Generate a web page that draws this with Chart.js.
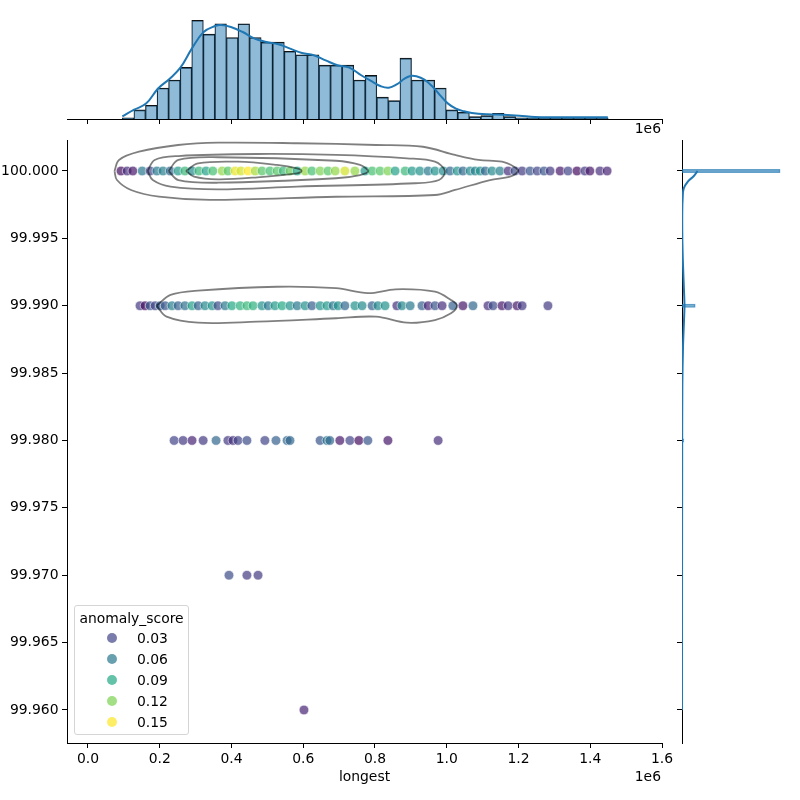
<!DOCTYPE html>
<html>
<head>
<meta charset="utf-8">
<script src="https://cdn.jsdelivr.net/npm/chart.js@4.4.0/dist/chart.umd.min.js"></script>
<style>
  body { margin: 0; background: #fff; }
  #wrap { position: relative; width: 800px; height: 800px; font-family: 'DejaVu Sans', sans-serif; color: #000; }
  #wrap canvas { position: absolute; left: 0; top: 0; }
  .offset { position: absolute; font-size: 13.9px; line-height: 16px; text-align: right; width: 40px; }
  #legend { position: absolute; left: 74px; top: 605px; width: 115px; height: 130px; box-sizing: border-box;
            border: 1px solid #d5d5d5; border-radius: 3px; background: rgba(255,255,255,0.8); font-size: 13.9px; }
  #legend .ltitle { position: absolute; left: 0; width: 100%; top: 2px; text-align: center; line-height: 20px; white-space: nowrap; }
  #legend .lrow { position: absolute; left: 0; width: 100%; line-height: 20px; }
  #legend .dot { position: absolute; left: 32px; top: 5px; width: 10px; height: 10px; border-radius: 50%; }
  #legend .lab { position: absolute; left: 62px; }
</style>
</head>
<body>
<div id="wrap">
  <canvas id="main" width="800" height="800"></canvas>
  <canvas id="top" width="800" height="800"></canvas>
  <canvas id="right" width="800" height="800"></canvas>
  <div class="offset" style="left:621px; top:120px;">1e6</div>
  <div class="offset" style="left:621px; top:768px;">1e6</div>
  <div id="legend"></div>
</div>
<script>
// axis ranges and ticks (x in units of 1e6)
const xMin = -0.0585, xMax = 1.6;
const yMin = 99.95755, yMax = 100.0023;
const xTicks = [0, 0.2, 0.4, 0.6, 0.8, 1.0, 1.2, 1.4, 1.6];
const yTicks = [99.96, 99.965, 99.97, 99.975, 99.98, 99.985, 99.99, 99.995, 100.0];
const legendScores = [0.03, 0.06, 0.09, 0.12, 0.15];

// scatter rows: longest (1e6) and anomaly_score
const row100X = [0.092,0.109,0.125,0.151,0.173,0.192,0.209,0.229,0.251,0.270,0.290,0.309,0.329,0.348,0.374,0.390,0.410,0.426,0.446,0.466,0.485,0.507,0.527,0.544,0.563,0.583,0.605,0.624,0.647,0.669,0.689,0.716,0.744,0.772,0.792,0.814,0.836,0.856,0.884,0.903,0.925,0.948,0.967,0.990,1.009,1.029,1.045,1.065,1.079,1.093,1.107,1.126,1.148,1.171,1.190,1.210,1.232,1.252,1.271,1.288,1.316,1.338,1.363,1.385,1.399,1.427,1.447];
const row100S = [0.005,0.02,0.01,0.06,0.03,0.06,0.065,0.05,0.08,0.10,0.07,0.10,0.085,0.105,0.125,0.11,0.145,0.14,0.15,0.13,0.11,0.105,0.11,0.10,0.115,0.09,0.125,0.105,0.12,0.11,0.125,0.14,0.125,0.08,0.105,0.11,0.12,0.085,0.10,0.08,0.075,0.06,0.075,0.07,0.05,0.075,0.05,0.07,0.065,0.075,0.05,0.07,0.065,0.02,0.035,0.025,0.04,0.03,0.04,0.025,0.01,0.03,0.005,0.025,0.01,0.02,0.015];
const row9999X = [0.145,0.159,0.173,0.187,0.201,0.215,0.234,0.251,0.270,0.290,0.307,0.326,0.346,0.362,0.382,0.401,0.424,0.443,0.460,0.485,0.502,0.521,0.541,0.563,0.583,0.605,0.624,0.647,0.666,0.683,0.697,0.716,0.744,0.764,0.792,0.808,0.828,0.861,0.875,0.898,0.931,0.948,0.967,0.987,1.017,1.045,1.073,1.115,1.129,1.154,1.171,1.196,1.210,1.282];
const row9999S = [0.025,0.005,0.04,0.03,0.045,0.04,0.065,0.045,0.055,0.085,0.045,0.07,0.075,0.035,0.06,0.09,0.095,0.10,0.095,0.075,0.06,0.08,0.09,0.075,0.06,0.075,0.045,0.075,0.08,0.06,0.075,0.05,0.075,0.07,0.045,0.07,0.075,0.02,0.07,0.06,0.045,0.015,0.04,0.02,0.045,0.01,0.05,0.02,0.035,0.01,0.025,0.01,0.025,0.025];
const row9998X = [0.240,0.265,0.290,0.321,0.357,0.390,0.404,0.418,0.443,0.493,0.524,0.555,0.563,0.647,0.666,0.674,0.702,0.730,0.755,0.780,0.836,0.976];
const row9998S = [0.03,0.025,0.015,0.025,0.05,0.025,0.02,0.03,0.035,0.03,0.045,0.05,0.05,0.04,0.06,0.05,0.01,0.03,0.005,0.04,0.01,0.02];
const row9997X = [0.393, 0.443, 0.474];
const row9997S = [0.035, 0.025, 0.025];
const row9996X = [0.602];
const row9996S = [0.015];

// kde contour lines [longest, y]
const contourOuter = [[0.0739,100.0],[0.0864,100.00082],[0.1422,100.00143],[0.2509,100.00193],[0.3624,100.0021],[0.5826,100.00206],[0.8028,100.00193],[0.9338,100.0018],[1.0230,100.00119],[1.0885,100.00082],[1.1540,100.00069],[1.1875,100.00032],[1.1986,100.0],[1.1763,99.99958],[1.1206,99.99933],[1.0230,99.99859],[0.9672,99.99822],[0.6913,99.99809],[0.3401,99.99785],[0.1979,99.99809],[0.1199,99.99859],[0.0808,99.99933],[0.0739,100.0]];
const contourSecond = [[0.1661,100.0],[0.1859,100.00082],[0.2520,100.00111],[0.4711,100.00126],[0.6913,100.00119],[0.8892,100.00094],[0.9672,100.00069],[0.9951,100.0],[0.9784,99.99933],[0.9115,99.99909],[0.5826,99.99884],[0.3624,99.99864],[0.2300,99.99884],[0.1806,99.99933],[0.1661,100.0]];
const contourThird = [[0.2247,100.0],[0.2520,100.00082],[0.3624,100.00102],[0.6913,100.00076],[0.7582,100.00045],[0.7805,100.0],[0.7582,99.9997],[0.6913,99.99946],[0.3624,99.99913],[0.2520,99.99933],[0.2247,100.0]];
const contourInner = [[0.2732,100.0],[0.3066,100.00057],[0.4173,100.00069],[0.5268,100.00045],[0.5826,100.0002],[0.5954,100.0],[0.5826,99.99983],[0.4722,99.99953],[0.3624,99.99938],[0.2955,99.99958],[0.2732,100.0]];
const contourLower = [[0.1915,99.99],[0.2300,99.9908],[0.3066,99.99112],[0.5268,99.99141],[0.6913,99.9913],[0.7805,99.99093],[0.8574,99.99122],[0.9672,99.99104],[1.0118,99.99043],[1.0286,99.99],[1.0118,99.98944],[0.9672,99.98894],[0.8892,99.98874],[0.8028,99.98919],[0.6913,99.98907],[0.4711,99.98882],[0.3066,99.98874],[0.2191,99.98919],[0.1915,99.99]];

// top marginal histogram
const binStart = 0.0958, binWidth = 0.03224;
const histCounts = [1,8,12,27,34,45,86,74,83,71,83,71,67,67,59,56,56,47,47,47,34,38,19,16,53,34,34,27,8,6,2,3,5,2,1,1,1,1,1,1,1,1];
const kdeTopX = [0.0957,0.1287,0.1618,0.1948,0.2278,0.2575,0.2894,0.3224,0.3543,0.3708,0.3983,0.4314,0.4644,0.4974,0.5304,0.5634,0.5964,0.6294,0.6625,0.6955,0.7285,0.7615,0.7945,0.8165,0.8385,0.8605,0.8825,0.8990,0.9155,0.9376,0.9596,0.9816,1.0036,1.0256,1.0476,1.070,1.114,1.158,1.202,1.246,1.312,1.378,1.449];
const kdeTopY = [2.3,8.1,13.4,26.4,35.1,44.7,61.3,75.8,81.0,81.9,80.2,75.8,70.0,67.1,65.1,61.3,57.5,55.5,51.1,46.8,44.7,38.1,32.2,28.5,27.3,30.2,35.1,37.5,37.2,34.3,28.5,20.6,13.4,9.0,6.7,5.2,4.1,3.7,2.9,1.7,1.5,1.5,1.5];

// right marginal histogram
const yBins = [100.0, 99.99, 99.98, 99.97, 99.96];
const yBinCounts = [1150, 155, 22, 3, 1];
const kdeRightY = [99.96,99.97,99.978,99.984,99.987,99.989,99.99,99.991,99.993,99.995,99.997,99.998,99.9987,99.9992,99.99963,100.0];
const kdeRightC = [0.3,0.8,2,4,12,24,29,24,12,4,3,8,20,66,139,182];

const viridisStops = [[68,1,84],[72,36,117],[65,68,135],[53,95,141],[42,120,142],[33,145,140],[34,168,132],[68,191,112],[122,209,81],[189,223,38],[253,231,37]];
const scoreMax = 0.15;

function viridis(score, alpha) {
    const t = Math.max(0, Math.min(1, score / scoreMax)) * 10;
    const i = Math.min(9, Math.floor(t));
    const f = t - i;
    const a = viridisStops[i], b = viridisStops[i + 1];
    const c = a.map((v, k) => Math.round(v + (b[k] - v) * f));
    return `rgba(${c[0]},${c[1]},${c[2]},${alpha})`;
}

Chart.defaults.font.family = "'DejaVu Sans', sans-serif";
Chart.defaults.color = '#000';
Chart.defaults.animation = false;

const fontSize = 13.9;
const noPlugins = { legend: { display: false }, tooltip: { enabled: false } };
const tickGrid = { display: true, drawOnChartArea: false, drawTicks: true, tickLength: 5, tickWidth: 1, tickColor: '#000', offset: false };
const spine = { display: true, color: '#000', width: 1 };
const setXTicks = s => { s.ticks = xTicks.map(v => ({ value: v })); };
const setYTicks = s => { s.ticks = yTicks.map(v => ({ value: v })); };

// Main joint scatter + contours
const points = [];
[[100.0, row100X, row100S], [99.99, row9999X, row9999S], [99.98, row9998X, row9998S],
 [99.97, row9997X, row9997S], [99.96, row9996X, row9996S]].forEach(([y, xs, ss]) => {
    xs.forEach((x, i) => points.push({ x: x, y: y, s: ss[i] }));
});

const contours = [contourOuter, contourSecond, contourThird, contourInner, contourLower];

new Chart(document.getElementById('main'), {
    type: 'scatter',
    data: {
        datasets: [
            ...contours.map(c => ({
                data: c.map(([x, y]) => ({ x: x, y: y })),
                showLine: true,
                pointRadius: 0,
                borderColor: 'rgba(0,0,0,0.5)',
                borderWidth: 1.8,
                tension: 0.35,
                order: 0
            })),
            {
                data: points,
                order: 1,
                pointRadius: 4.8,
                pointBorderWidth: 0.8,
                pointBorderColor: 'rgba(255,255,255,0.7)',
                pointBackgroundColor: ctx => ctx.raw ? viridis(ctx.raw.s, 0.7) : 'transparent'
            }
        ]
    },
    options: {
        responsive: false,
        events: [],
        layout: { padding: { left: 0, right: 138, top: 140, bottom: 0 } },
        plugins: noPlugins,
        scales: {
            x: {
                type: 'linear', min: xMin, max: xMax,
                afterBuildTicks: setXTicks,
                afterFit: s => { s.height = 57; },
                ticks: { callback: v => v.toFixed(1), font: { size: fontSize }, padding: 3, maxRotation: 0, autoSkip: false },
                grid: tickGrid, border: spine,
                title: { display: true, text: 'longest', font: { size: fontSize }, padding: { top: 0, bottom: 14.6 } }
            },
            y: {
                type: 'linear', min: yMin, max: yMax,
                afterBuildTicks: setYTicks,
                afterFit: s => { s.width = 67; },
                ticks: { callback: v => v.toFixed(3), font: { size: fontSize }, padding: 3.5, autoSkip: false },
                grid: tickGrid, border: spine
            }
        }
    }
});

// Top marginal: histogram + kde
new Chart(document.getElementById('top'), {
    type: 'bar',
    data: {
        datasets: [
            {
                type: 'line',
                data: kdeTopX.map((x, i) => ({ x: x, y: kdeTopY[i] })),
                borderColor: '#1f77b4', borderWidth: 2, pointRadius: 0, tension: 0.4, order: 0
            },
            {
                data: histCounts.map((c, i) => ({ x: binStart + (i + 0.5) * binWidth, y: c })),
                backgroundColor: 'rgba(31,119,180,0.5)',
                borderColor: '#111',
                borderWidth: { top: 1, left: 0.6, right: 0.6, bottom: 0 },
                borderSkipped: false,
                barPercentage: 1, categoryPercentage: 1, order: 1
            }
        ]
    },
    options: {
        responsive: false,
        events: [],
        layout: { padding: { left: 67, right: 138, top: 15, bottom: 0 } },
        plugins: noPlugins,
        scales: {
            x: {
                type: 'linear', offset: false, min: xMin, max: xMax,
                afterBuildTicks: setXTicks,
                afterFit: s => { s.height = 800 - 119; },
                ticks: { display: false },
                grid: tickGrid, border: spine
            },
            y: { display: false, min: 0, max: 90.6 }
        }
    }
});

// Right marginal: histogram + kde
new Chart(document.getElementById('right'), {
    type: 'bar',
    data: {
        datasets: [
            {
                type: 'line', indexAxis: 'y',
                data: kdeRightY.map((y, i) => ({ x: kdeRightC[i], y: y })),
                borderColor: '#1f77b4', borderWidth: 2, pointRadius: 0, tension: 0.4, order: 0
            },
            {
                data: yBins.map((y, i) => ({ x: yBinCounts[i], y: y })),
                backgroundColor: 'rgba(31,119,180,0.5)',
                borderColor: 'rgba(31,119,180,0.7)',
                borderWidth: 1, borderSkipped: false,
                barThickness: 3.5, order: 1
            }
        ]
    },
    options: {
        responsive: false,
        events: [],
        indexAxis: 'y',
        layout: { padding: { left: 0, right: 15, top: 140, bottom: 57 } },
        plugins: noPlugins,
        scales: {
            x: { type: 'linear', display: false, min: 0, max: 1207.5 },
            y: {
                type: 'linear', offset: false, min: yMin, max: yMax,
                afterBuildTicks: setYTicks,
                afterFit: s => { s.width = 682; },
                ticks: { display: false },
                grid: tickGrid, border: spine
            }
        }
    }
});

// Legend for anomaly_score
const legend = document.getElementById('legend');
legend.innerHTML = '<div class="ltitle">anomaly_score</div>';
legendScores.forEach((s, i) => {
    const row = document.createElement('div');
    row.className = 'lrow';
    row.style.top = (22 + i * 21) + 'px';
    row.innerHTML = '<span class="dot" style="background:' + viridis(s, 0.7) + '"></span><span class="lab">' + s.toFixed(2) + '</span>';
    legend.appendChild(row);
});
</script>
</body>
</html>
